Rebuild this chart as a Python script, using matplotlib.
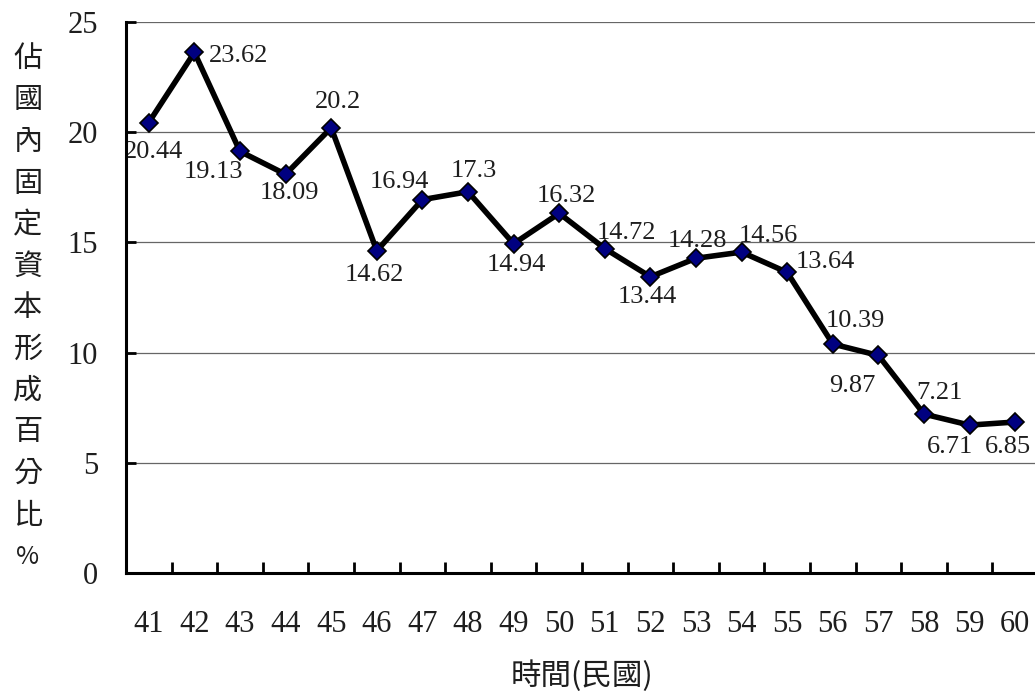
import numpy as np
import matplotlib
matplotlib.use('Agg')
import matplotlib.pyplot as plt

# data
years = [41, 42, 43, 44, 45, 46, 47, 48, 49, 50,
         51, 52, 53, 54, 55, 56, 57, 58, 59, 60]
shares = [20.44, 23.62, 19.13, 18.09, 20.2, 14.62, 16.94, 17.3, 14.94, 16.32,
          14.72, 13.44, 14.28, 14.56, 13.64, 10.39, 9.87, 7.21, 6.71, 6.85]
value_labels = ['20.44', '23.62', '19.13', '18.09', '20.2', '14.62', '16.94', '17.3',
                '14.94', '16.32', '14.72', '13.44', '14.28', '14.56', '13.64', '10.39',
                '9.87', '7.21', '6.71', '6.85']
y_ticks = [0, 5, 10, 15, 20, 25]
y_title = '佔國內固定資本形成百分比%'
x_title = '時間(民國)'

# label offsets in pixels (dx, dy up) relative to each marker
label_offsets = [(5, -29), (44, -4), (-27, -21), (4, -19), (7, 26), (-2, -24),
                 (-23, 18), (6, 21), (3, -21), (7, 17), (22, 16), (-3, -20),
                 (1, 17), (27, 16), (38, 10), (23, 23), (-26, -31), (15, 21),
                 (-20, -22), (-7, -25)]

NUM_FONT = 'Liberation Serif'
CJK_FONT = ['Noto Sans CJK TC', 'DejaVu Sans']
TEXT_COLOR = '#1e1e1e'
PX = 72 / 100  # points per pixel at dpi 100

fig = plt.figure(figsize=(10.35, 6.94), dpi=100)
ax = fig.add_axes([126 / 1035, 1 - 573 / 694, 912 / 1035, 551 / 694])

ax.plot(years, shares, color='black', lw=4, marker='D', ms=9.5,
        mfc='#000080', mec='black', mew=1.2, zorder=3, clip_on=False)

for x, y, txt, (dx, dy) in zip(years, shares, value_labels, label_offsets):
    ax.annotate(txt, (x, y), xytext=(dx * PX, dy * PX), textcoords='offset points',
                ha='center', va='center', fontsize=19, family=NUM_FONT,
                color=TEXT_COLOR, zorder=4)

ax.set_xlim(years[0] - 0.5, years[-1] + 0.5)
ax.set_ylim(y_ticks[0], y_ticks[-1])
ax.set_yticks(y_ticks)
ax.set_xticks(years)
ax.set_xticklabels([str(v) for v in years])
ax.set_xticks(np.array(years[:-1]) + 0.5, minor=True)

ax.tick_params(axis='x', which='major', length=0, pad=27, labelsize=22)
ax.tick_params(axis='x', which='minor', direction='in', length=8, width=2)
ax.tick_params(axis='y', which='major', direction='in', length=7, width=2,
               pad=20, labelsize=22)
for lab in ax.get_xticklabels() + ax.get_yticklabels():
    lab.set_family(NUM_FONT)
    lab.set_color(TEXT_COLOR)

ax.yaxis.grid(True, color='#666666', lw=0.9)
ax.set_axisbelow(True)
for side in ['top', 'right']:
    ax.spines[side].set_visible(False)
for side in ['left', 'bottom']:
    ax.spines[side].set_linewidth(2.2)
    ax.spines[side].set_zorder(5)

# vertical y-axis title, one character per line
for i, ch in enumerate(y_title):
    fig.text(28 / 1035, 1 - (59 + i * 41.5) / 694, ch, ha='center', va='center',
             fontsize=21 if ch != '%' else 18, family=CJK_FONT,
             fontweight='light', color=TEXT_COLOR)

fig.text(582 / 1035, 1 - 676 / 694, x_title, ha='center', va='center',
         fontsize=22, family=CJK_FONT, fontweight='light', color=TEXT_COLOR)

fig.savefig('out.png', dpi=100)
